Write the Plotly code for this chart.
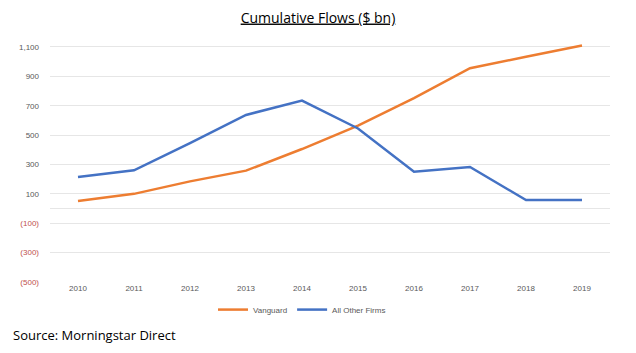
import plotly.graph_objects as go

years = ["2010", "2011", "2012", "2013", "2014", "2015", "2016", "2017", "2018", "2019"]
vanguard = [52, 100, 185, 258, 405, 565, 751, 955, 1033, 1110]
other_firms = [215, 260, 446, 637, 735, 545, 251, 283, 58, 58]
tick_vals = [1100, 900, 700, 500, 300, 100, -100, -300, -500]
tick_text = ["1,100", "900", "700", "500", "300", "100",
             '<span style="color:#c0504d">(100)</span>',
             '<span style="color:#c0504d">(300)</span>',
             '<span style="color:#c0504d">(500)</span>']

fig = go.Figure()
fig.add_trace(go.Scatter(x=years, y=vanguard, name="Vanguard", mode="lines",
                         line=dict(color="#ED7D31", width=2.5)))
fig.add_trace(go.Scatter(x=years, y=other_firms, name="All Other Firms", mode="lines",
                         line=dict(color="#4472C4", width=2.5)))

fig.update_layout(
    width=636, height=353,
    margin=dict(l=50, r=26, t=44, b=71),
    paper_bgcolor="white", plot_bgcolor="white",
    font=dict(family="Liberation Sans, Arial, sans-serif", color="#595959"),
    title=dict(text="<u>Cumulative Flows ($ bn)</u>", x=0.5, xanchor="center",
               y=0.95, yanchor="middle",
               font=dict(family="Open Sans, sans-serif", size=14, color="#000000")),
    showlegend=True,
    legend=dict(orientation="h", x=0.45, xanchor="center", y=-0.055, yanchor="top",
                font=dict(size=8, color="#595959"), itemwidth=30),
    annotations=[dict(text="Source: Morningstar Direct", xref="paper", yref="paper",
                      x=-0.07, y=-0.175, xanchor="left", yanchor="top", showarrow=False,
                      font=dict(family="Open Sans, sans-serif", size=13, color="#000000"))],
)
fig.update_xaxes(type="category", range=[-0.5, 9.5], showgrid=False, showline=False,
                 ticks="", tickfont=dict(size=8, color="#595959"))
fig.update_yaxes(range=[-500, 1120], tickvals=tick_vals, ticktext=tick_text,
                 showgrid=True, gridcolor="#e6e6e6", gridwidth=1,
                 zeroline=True, zerolinecolor="#e6e6e6", zerolinewidth=1,
                 ticks="", ticklabelstandoff=10, tickfont=dict(size=8, color="#595959"))

fig.write_html("out.html")
